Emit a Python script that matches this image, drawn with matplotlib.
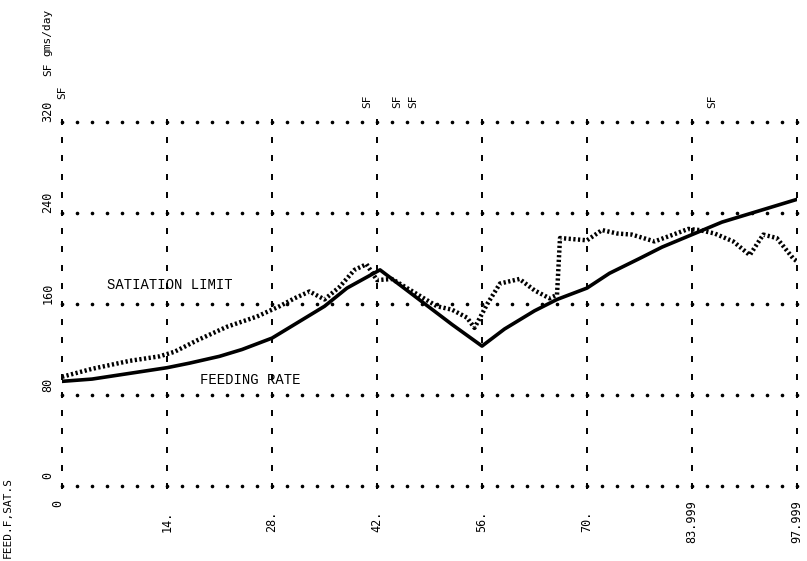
import matplotlib.pyplot as plt
import numpy as np

# feeding rate (solid line), gms/day vs day
feed_day = [0, 4, 7, 10, 14, 17, 21, 24, 28, 31, 35, 38, 42.4, 46, 49, 52, 56, 59, 63, 66, 70, 73, 77, 80, 84, 88, 91, 95, 98]
feed_val = [92, 94, 97, 100, 104, 108, 114, 120, 130, 142, 158, 174, 190, 172, 157, 142, 123, 138, 154, 164, 174, 187, 200, 210, 221, 232, 238, 246, 252]

# satiation limit (dotted line)
sat_day = [0, 4, 9, 13, 15, 18, 22, 26, 29, 31, 33, 35, 37, 39, 40.6, 42, 44, 47, 50, 52, 54, 55, 56.7, 58.4, 61, 63, 65, 66, 66.4, 70, 72, 74, 76, 79, 81.5, 83.5, 85, 87, 89.5, 91.7, 93.5, 95.3, 97.5, 98.5]
sat_val = [96, 103, 110, 114, 118, 128, 140, 149, 158, 165, 171, 164, 175, 190, 195, 181, 182, 170, 158, 155, 148, 139, 160, 178, 182, 172, 165, 168, 218, 216, 225, 222, 221, 215, 221, 226, 225, 222, 215, 203, 221, 218, 200, 195]

x_ticks = [0, 14, 28, 42, 56, 70, 84, 98]
x_labels = ["0", "14.", "28.", "42.", "56.", "70.", "83.999", "97.999"]
y_ticks = [0, 80, 160, 240, 320]
y_labels = ["0", "80", "160", "240", "320"]
sf_days = [40.7, 44.7, 46.8, 86.7]

plt.rcParams['font.family'] = ['DejaVu Sans Mono']

fig = plt.figure(figsize=(8.07, 5.61), dpi=100)
ax = fig.add_axes([62/807, 75/561, 735/807, 364/561])
ax.set_xlim(0, 98)
ax.set_ylim(0, 320)
ax.axis('off')

# dotted horizontal grid, dashed vertical grid
dots = np.arange(0, 98.1, 2)
for yv in y_ticks:
    ax.plot(dots, np.full(len(dots), yv), 'o', ms=1.6, color='black', clip_on=False)
dashes = np.arange(0, 321, 16)
for xv in x_ticks:
    ax.plot(np.full(len(dashes), xv), dashes, '|', ms=4, mew=1.4, color='black', clip_on=False)

ax.plot(feed_day, feed_val, color='black', lw=2.6, solid_capstyle='round')
ax.plot(sat_day, sat_val, color='black', lw=3.2, linestyle=(0, (0.5, 0.55)))

for xv, lab in zip(x_ticks, x_labels):
    if xv == 0:
        ax.text(-0.5, -15, lab, rotation=90, ha='center', va='center', fontsize=8.5)
    else:
        ax.text(xv, -31, lab, rotation=90, ha='center', va='center', fontsize=8.5)
for yv, lab in zip(y_ticks, y_labels):
    ax.text(-1.9, yv + 9, lab, rotation=90, ha='center', va='center', fontsize=8.5)

for d in sf_days:
    ax.text(d, 338, "SF", rotation=90, ha='center', va='center', fontsize=8)
ax.text(0.1, 346, "SF", rotation=90, ha='center', va='center', fontsize=8)
ax.text(-1.9, 366, "SF", rotation=90, ha='center', va='center', fontsize=8)
ax.text(-1.9, 399, "gms/day", rotation=90, ha='center', va='center', fontsize=8)
ax.text(-7.2, -28, "FEED.F,SAT.S", rotation=90, ha='center', va='center', fontsize=8)

ax.text(6, 177, "SATIATION LIMIT", ha='left', va='center', fontsize=10, family='Liberation Mono')
ax.text(18.4, 93, "FEEDING RATE", ha='left', va='center', fontsize=10, family='Liberation Mono')

fig.savefig('out.png', dpi=100)
